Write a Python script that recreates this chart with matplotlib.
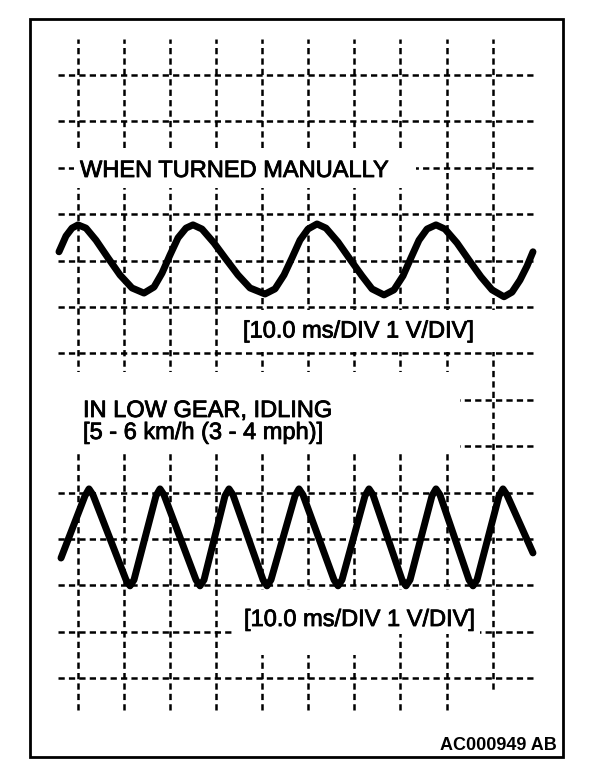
import matplotlib.pyplot as plt
import matplotlib.patheffects as pe
from matplotlib.patches import Rectangle

# scope setting for both traces: 10.0 ms/DIV, 1 V/DIV
ms_per_div = 10.0
v_per_div = 1.0

# graticule lines (ms / V, V counted from the upper trace's zero line)
grid_t = [0, 10, 20, 30, 40, 50, 60, 70, 80, 90]
grid_v = [4, 3, 2, 1, 0, -1, -2, -3, -4, -5, -6, -7, -8, -9]

# trace 1: when turned manually
t1 = [-4.06, -2.54, -1.24, 0.07, 1.80, 3.97, 6.57, 9.18, 11.78, 14.38,
      16.55, 18.29, 20.02, 21.76, 23.49, 25.01, 26.96, 29.57, 32.17, 34.77,
      37.38, 40.63, 42.80, 44.75, 46.49, 48.22, 49.96, 51.91, 53.86, 56.46,
      59.07, 61.67, 63.84, 66.44, 68.61, 70.56, 72.30, 74.03, 75.77, 77.72,
      79.67, 82.28, 84.88, 87.48, 89.87, 92.47, 94.21, 95.94, 97.46, 98.76]
v1 = [0.19, 0.53, 0.70, 0.77, 0.70, 0.44, 0.06, -0.31, -0.59, -0.70,
      -0.57, -0.27, 0.12, 0.49, 0.70, 0.77, 0.68, 0.38, 0.03, -0.31,
      -0.59, -0.72, -0.61, -0.31, 0.06, 0.44, 0.68, 0.79, 0.70, 0.40,
      0.03, -0.33, -0.61, -0.74, -0.63, -0.33, 0.06, 0.44, 0.68, 0.77,
      0.68, 0.38, 0.01, -0.35, -0.63, -0.78, -0.68, -0.42, -0.12, 0.19]

# trace 2: in low gear, idling
t2 = [-3.62, 1.58, 2.45, 3.32, 10.48, 11.35, 12.21, 16.98, 17.85, 18.72,
      25.66, 26.53, 27.40, 31.95, 32.82, 33.69, 40.20, 41.06, 41.93, 47.14,
      48.00, 48.87, 55.60, 56.47, 57.33, 62.32, 63.19, 64.06, 70.35, 71.22,
      72.09, 76.85, 77.72, 78.59, 84.88, 85.75, 86.62, 91.39, 92.25, 93.12,
      98.76]
v2 = [-0.41, 0.93, 1.08, 0.95, -0.88, -1.01, -0.88, 0.93, 1.08, 0.95,
      -0.88, -1.01, -0.88, 0.93, 1.08, 0.95, -0.88, -1.01, -0.88, 0.93,
      1.08, 0.95, -0.88, -1.01, -0.88, 0.93, 1.08, 0.95, -0.88, -1.01,
      -0.88, 0.93, 1.08, 0.95, -0.88, -1.01, -0.88, 0.93, 1.08, 0.95,
      -0.30]

W, H = 608, 778
x0 = 77.7           # pixel column of t = 0
y0_top = 260.6      # pixel row of 0 V, upper trace
y0_bot = 539.0      # pixel row of 0 V, lower trace
sx, sy = 46.1, 46.4  # pixels per division


def data_axes(fig, y0, z):
    # full-figure axes whose scale matches the scope graticule
    a = fig.add_axes([0, 0, 1, 1], zorder=z)
    a.set_xlim(-x0 / sx * ms_per_div, (W - x0) / sx * ms_per_div)
    a.set_ylim((y0 - H) / sy * v_per_div, y0 / sy * v_per_div)
    a.axis('off')
    return a


def draw_plt():
    plt.rcParams['lines.scale_dashes'] = False
    fig = plt.figure(figsize=(W / 100, H / 100), dpi=100)

    ax_top = data_axes(fig, y0_top, 0)
    dash = (0, (4.5, 3.0))
    ax_top.vlines(grid_t, -9.68, 4.78, colors='black', lw=1.8, linestyles=dash)
    ax_top.hlines(grid_v, -4.27, 99.2, colors='black', lw=1.8, linestyles=dash)
    ax_top.plot(t1, v1, color='black', lw=5,
                solid_joinstyle='round', solid_capstyle='round')

    # layout layer in pixels: blanked grid areas, frame, labels
    ax = fig.add_axes([0, 0, 1, 1], zorder=1)
    ax.set_xlim(0, W)
    ax.set_ylim(H, 0)
    ax.axis('off')
    for x, y, w, h in [(74, 148, 342, 40), (232, 309.5, 313, 42),
                       (50, 372, 410, 81), (234, 590, 161, 65),
                       (395, 590, 85, 44), (486, 690, 14, 25)]:
        ax.add_patch(Rectangle((x, y), w, h, facecolor='white',
                               edgecolor='none', zorder=1))
    ax.add_patch(Rectangle((30, 19), 533, 738, fill=False,
                           edgecolor='black', lw=2, zorder=3))

    heavy = [pe.withStroke(linewidth=0.6, foreground='black')]
    font = dict(family='Liberation Sans', size=17, color='black',
                va='baseline', zorder=4, path_effects=heavy)
    ax.text(80, 177, 'WHEN TURNED MANUALLY', **font)
    ax.text(243, 337.5, '[10.0 ms/DIV 1 V/DIV]', **font)
    ax.text(83, 417, 'IN LOW GEAR, IDLING', **font)
    ax.text(83, 439, '[5 - 6 km/h (3 - 4 mph)]', **font)
    ax.text(244, 626, '[10.0 ms/DIV 1 V/DIV]', **font)
    ax.text(557, 750, 'AC000949 AB', family='Liberation Sans', size=13,
            weight='bold', ha='right', va='baseline', zorder=4)

    ax_bot = data_axes(fig, y0_bot, 2)
    ax_bot.plot(t2, v2, color='black', lw=5,
                solid_joinstyle='round', solid_capstyle='round')

    fig.savefig('out.png', dpi=100, facecolor='white')


if __name__ == '__main__':
    draw_plt()
